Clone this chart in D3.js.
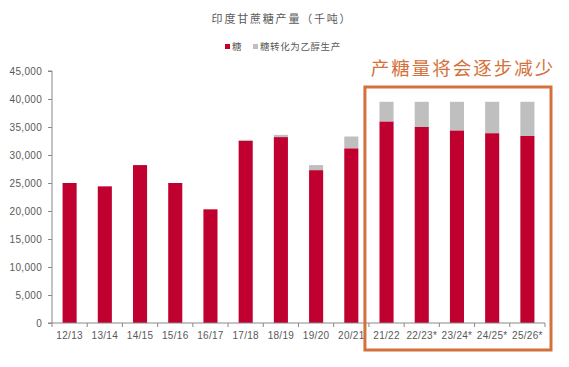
<!DOCTYPE html>
<html><head><meta charset="utf-8">
<script src="https://cdn.jsdelivr.net/npm/d3@7/dist/d3.min.js"></script>
<style>body{margin:0;background:#fff;}svg{display:block;}</style>
</head><body><svg id="c" width="569" height="367"></svg>
<script>
const categories = ["12/13","13/14","14/15","15/16","16/17","17/18","18/19","19/20","20/21","21/22","22/23*","23/24*","24/25*","25/26*"];
const sugar = [25000,24400,28200,25000,20300,32500,33200,27300,31200,36000,35000,34400,33900,33400];
const ethanol = [0,0,0,0,0,200,400,900,2100,3500,4500,5100,5600,6100];
const yTicks = [0,5000,10000,15000,20000,25000,30000,35000,40000,45000];
const seriesNames = ["糖","糖转化为乙醇生产"];
const colors = ["#C0002F","#BFBFBF"];
const titleText = "印度甘蔗糖产量（千吨）";
const noteText = "产糖量将会逐步减少";

const svg = d3.select("#c");
const x0 = 52, x1 = 545, yTop = 71, yBot = 323;
const x = d3.scaleBand().domain(categories).range([x0, x1]).paddingInner(0.6).paddingOuter(0.3);
const xb = d3.scaleBand().domain(categories).range([x0, x1]);
const y = d3.scaleLinear().domain([0,45000]).range([yBot, yTop]);
const fmt = d3.format(",");
const font = "Liberation Sans, Arial, sans-serif";
const cjk = "Noto Sans CJK SC, sans-serif";

// title
svg.append("text").attr("x",282).attr("y",23).attr("text-anchor","middle")
  .attr("font-family",cjk).attr("font-size",11).attr("letter-spacing",1.8).attr("fill","#595959").text(titleText);
// legend
const lg = svg.append("g");
const lx = [225, 253];
seriesNames.forEach((n,i)=>{
  lg.append("rect").attr("x",lx[i]).attr("y",44).attr("width",5).attr("height",5).attr("fill",colors[i]);
  lg.append("text").attr("x",lx[i]+7).attr("y",50).attr("font-family",cjk).attr("font-size",9.5)
    .attr("letter-spacing",0.6).attr("fill","#595959").text(n);
});

// bars
const g = svg.append("g");
categories.forEach((c,i)=>{
  g.append("rect").attr("x",x(c)).attr("width",x.bandwidth())
    .attr("y",y(sugar[i])).attr("height",y(0)-y(sugar[i])).attr("fill",colors[0]);
  if (ethanol[i]>0) g.append("rect").attr("x",x(c)).attr("width",x.bandwidth())
    .attr("y",y(sugar[i]+ethanol[i])).attr("height",y(sugar[i])-y(sugar[i]+ethanol[i])).attr("fill",colors[1]);
});

// y axis
const ya = svg.append("g").attr("transform",`translate(${x0},0)`)
  .call(d3.axisLeft(y).tickValues(yTicks).tickFormat(fmt).tickSize(4).tickPadding(6));
ya.select(".domain").attr("stroke","#888").attr("d",`M-4,${yTop}H0V${yBot}`);
ya.selectAll(".tick line").attr("stroke","#888");
ya.selectAll("text").attr("font-family",font).attr("font-size",10).attr("letter-spacing",0.3).attr("fill","#595959");

// x axis
const xa = svg.append("g").attr("transform",`translate(0,${yBot})`);
xa.append("line").attr("x1",x0-4).attr("x2",x1).attr("stroke","#888");
categories.forEach(c=>{
  xa.append("line").attr("x1",xb(c)).attr("x2",xb(c)).attr("y1",0).attr("y2",4).attr("stroke","#888");
  xa.append("text").attr("x",xb(c)+xb.bandwidth()/2).attr("y",16).attr("text-anchor","middle")
    .attr("font-family",font).attr("font-size",10).attr("letter-spacing",0.3).attr("fill","#595959").text(c);
});
xa.append("line").attr("x1",x1).attr("x2",x1).attr("y1",0).attr("y2",4).attr("stroke","#888");

// highlight box
const bx = xb(categories[9]) - 4;
svg.append("rect").attr("x",bx).attr("y",87).attr("width",551-bx).attr("height",263)
  .attr("fill","none").attr("stroke","#D4703A").attr("stroke-width",3);
svg.append("text").attr("x",463).attr("y",75).attr("text-anchor","middle")
  .attr("font-family",cjk).attr("font-size",18.5).attr("letter-spacing",2).attr("fill","#D4703A").text(noteText);
</script></body></html>
